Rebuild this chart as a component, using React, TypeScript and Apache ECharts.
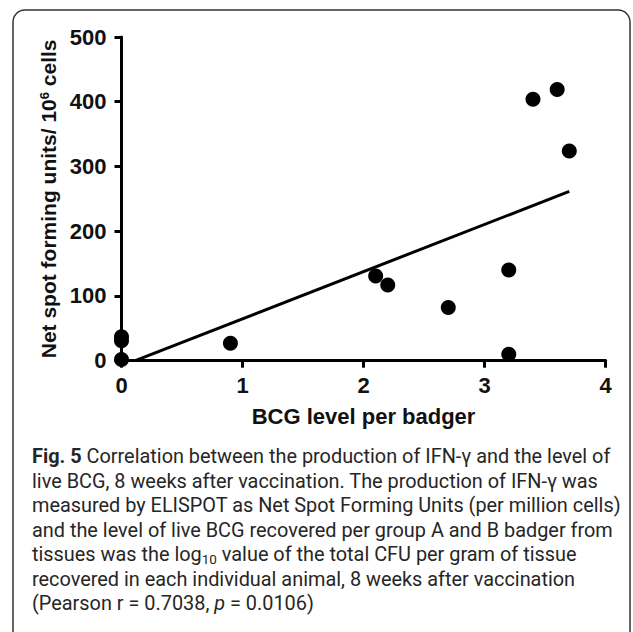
import React, { useEffect, useRef } from 'react';
import * as echarts from 'echarts';

// ---- data ----
const bcgLevel = [0, 0, 0, 0.9, 2.1, 2.2, 2.7, 3.2, 3.2, 3.4, 3.6, 3.7];
const netSpotForming = [37, 31, 2, 27, 131, 117, 82, 140, 10, 404, 419, 324];
const xTicks = [0, 1, 2, 3, 4];
const yTicks = [0, 100, 200, 300, 400, 500];
const xAxisTitle = 'BCG level per badger';
const yAxisTitleMain = 'Net spot forming units/ 10';
const yAxisTitleSup = '6';
const yAxisTitleEnd = ' cells';
const captionLines = [
  '{b|Fig. 5} Correlation between the production of IFN-γ and the level of',
  'live BCG, 8 weeks after vaccination. The production of IFN-γ was',
  'measured by ELISPOT as Net Spot Forming Units (per million cells)',
  'and the level of live BCG recovered per group A and B badger from',
  'tissues was the log{sub|10} value of the total CFU per gram of tissue',
  'recovered in each individual animal, 8 weeks after vaccination',
  '(Pearson r = 0.7038, {i|p} = 0.0106)',
];

function linearFit(xs: number[], ys: number[]) {
  const n = xs.length;
  const mx = xs.reduce((a, b) => a + b, 0) / n;
  const my = ys.reduce((a, b) => a + b, 0) / n;
  let sxy = 0;
  let sxx = 0;
  for (let i = 0; i < n; i++) {
    sxy += (xs[i] - mx) * (ys[i] - my);
    sxx += (xs[i] - mx) * (xs[i] - mx);
  }
  const slope = sxy / sxx;
  return { slope, intercept: my - slope * mx };
}

const CAP_FONT = 'Roboto, "Open Sans", sans-serif';
const AX_FONT = '"Liberation Sans", Arial, sans-serif';

export default function App() {
  const ref = useRef<HTMLDivElement>(null);

  useEffect(() => {
    if (!ref.current) return;
    // fit caption font so that line 1 spans the same width as in the reference
    let capSize = 19;
    try {
      const ctx = document.createElement('canvas').getContext('2d');
      if (ctx) {
        ctx.font = `bold 20px ${CAP_FONT}`;
        const w1 = ctx.measureText('Fig. 5').width;
        ctx.font = `20px ${CAP_FONT}`;
        const w2 = ctx.measureText(' Correlation between the production of IFN-γ and the level of').width;
        capSize = Math.min(21, (20 * 579) / (w1 + w2));
      }
    } catch (e) {
      capSize = 19;
    }

    const chart = echarts.init(ref.current, undefined, { renderer: 'svg' });
    const fit = linearFit(bcgLevel, netSpotForming);
    const xMax = Math.max(...bcgLevel);
    const xStart = -fit.intercept / fit.slope;
    const fitLine = [
      [xStart, 0],
      [xMax, fit.intercept + fit.slope * xMax],
    ];

    const lineY0 = 456.5;
    const lineStep = 24.5;
    const capColor = '#262626';

    const captionGraphics = captionLines.map((t, i) => ({
      type: 'text',
      x: 32,
      y: lineY0 + i * lineStep,
      style: {
        text: t,
        fill: capColor,
        fontSize: capSize,
        fontFamily: CAP_FONT,
        verticalAlign: 'middle',
        rich: {
          b: { fontWeight: 'bold', fontSize: capSize, fontFamily: CAP_FONT, fill: capColor },
          i: { fontStyle: 'italic', fontSize: capSize, fontFamily: CAP_FONT, fill: capColor },
          sub: {
            fontSize: capSize * 0.68,
            fontFamily: CAP_FONT,
            verticalAlign: 'bottom',
            padding: [capSize * 0.45, 0, 0, 0],
            fill: capColor,
          },
        },
      },
    }));

    chart.setOption({
      animation: false,
      backgroundColor: '#ffffff',
      grid: { left: 121.5, right: 27.4, top: 37, bottom: 271.3, containLabel: false },
      xAxis: {
        type: 'value',
        min: xTicks[0],
        max: xTicks[xTicks.length - 1],
        interval: 1,
        name: xAxisTitle,
        nameLocation: 'middle',
        nameGap: 45,
        nameTextStyle: { fontFamily: AX_FONT, fontWeight: 'bold', fontSize: 22, color: '#111' },
        axisLine: { show: true, onZero: false, lineStyle: { color: '#000', width: 3 } },
        axisTick: { show: true, length: 7, lineStyle: { color: '#000', width: 3 } },
        axisLabel: { margin: 14, fontFamily: AX_FONT, fontWeight: 'bold', fontSize: 22, color: '#111' },
        splitLine: { show: false },
      },
      yAxis: {
        type: 'value',
        min: yTicks[0],
        max: yTicks[yTicks.length - 1],
        interval: 100,
        name: `{a|${yAxisTitleMain}}{s|${yAxisTitleSup}}{a|${yAxisTitleEnd}}`,
        nameLocation: 'middle',
        nameRotate: 90,
        nameGap: 60,
        nameTextStyle: {
          fontFamily: AX_FONT,
          fontWeight: 'bold',
          fontSize: 21,
          color: '#111',
          rich: {
            a: { fontFamily: AX_FONT, fontWeight: 'bold', fontSize: 21, color: '#111' },
            s: {
              fontFamily: AX_FONT,
              fontWeight: 'bold',
              fontSize: 13,
              color: '#111',
              verticalAlign: 'top',
              padding: [0, 0, 8, 0],
            },
          },
        },
        axisLine: { show: true, onZero: false, lineStyle: { color: '#000', width: 3 } },
        axisTick: { show: true, length: 7, lineStyle: { color: '#000', width: 3 } },
        axisLabel: { margin: 15, fontFamily: AX_FONT, fontWeight: 'bold', fontSize: 22, color: '#111' },
        splitLine: { show: false },
      },
      series: [
        {
          type: 'line',
          data: fitLine,
          showSymbol: false,
          symbol: 'none',
          lineStyle: { color: '#000', width: 3 },
          clip: true,
          z: 3,
        },
        {
          type: 'scatter',
          data: bcgLevel.map((x, i) => [x, netSpotForming[i]]),
          symbol: 'circle',
          symbolSize: 15,
          itemStyle: { color: '#000', opacity: 1 },
          clip: false,
          z: 4,
        },
      ],
      graphic: [
        {
          type: 'rect',
          shape: { x: 13, y: 10, width: 617, height: 670, r: 12 },
          style: { fill: 'none', stroke: '#333', lineWidth: 1.5 },
          z: 0,
        },
        ...captionGraphics,
      ],
    });

    return () => {
      chart.dispose();
    };
  }, []);

  return (
    <div ref={ref} style={{ position: 'absolute', left: 0, top: 0, width: 633, height: 632 }} />
  );
}
